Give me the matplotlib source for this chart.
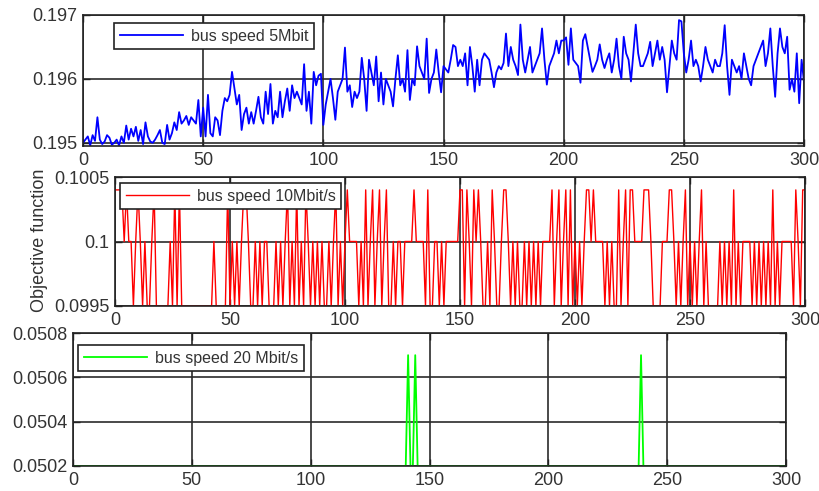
import matplotlib
matplotlib.use("Agg")
import matplotlib.pyplot as plt
from matplotlib.ticker import FixedLocator, FixedFormatter

plt.rcParams['font.family'] = ['Liberation Sans', 'DejaVu Sans']

# ---------------- data ----------------
x_blue = list(range(0, 301))
blue_5mbit = [
    0.19500, 0.19505, 0.19510, 0.19496, 0.19512, 0.19503, 0.19540, 0.19505, 0.19498, 0.19502,
    0.19512, 0.19508, 0.19497, 0.19500, 0.19505, 0.19496, 0.19510, 0.19500, 0.19527, 0.19505,
    0.19522, 0.19510, 0.19525, 0.19503, 0.19520, 0.19498, 0.19532, 0.19510, 0.19502, 0.19500,
    0.19505, 0.19512, 0.19520, 0.19500, 0.19498, 0.19528, 0.19505, 0.19515, 0.19532, 0.19520,
    0.19548, 0.19530, 0.19535, 0.19542, 0.19528, 0.19540, 0.19535, 0.19530, 0.19567, 0.19510,
    0.19555, 0.19510, 0.19575, 0.19515, 0.19510, 0.19540, 0.19535, 0.19512, 0.19550, 0.19570,
    0.19565, 0.19575, 0.19611, 0.19585, 0.19560, 0.19575, 0.19520, 0.19545, 0.19555, 0.19530,
    0.19548, 0.19530, 0.19550, 0.19572, 0.19540, 0.19530, 0.19580, 0.19545, 0.19592, 0.19530,
    0.19550, 0.19540, 0.19580, 0.19540, 0.19565, 0.19585, 0.19550, 0.19590, 0.19570, 0.19580,
    0.19570, 0.19560, 0.19623, 0.19550, 0.19580, 0.19530, 0.19611, 0.19590, 0.19605, 0.19608,
    0.19528, 0.19560, 0.19580, 0.19600, 0.19570, 0.19536, 0.19580, 0.19590, 0.19600, 0.19649,
    0.19580, 0.19590, 0.19556, 0.19580, 0.19570, 0.19580, 0.19633, 0.19600, 0.19550, 0.19630,
    0.19610, 0.19590, 0.19635, 0.19565, 0.19610, 0.19560, 0.19600, 0.19590, 0.19580, 0.19557,
    0.19600, 0.19637, 0.19590, 0.19600, 0.19580, 0.19645, 0.19567, 0.19600, 0.19590, 0.19651,
    0.19620, 0.19610, 0.19600, 0.19663, 0.19578, 0.19600, 0.19610, 0.19646, 0.19610, 0.19579,
    0.19620, 0.19615, 0.19610, 0.19630, 0.19653, 0.19650, 0.19620, 0.19630, 0.19620, 0.19640,
    0.19590, 0.19650, 0.19620, 0.19580, 0.19630, 0.19590, 0.19630, 0.19640, 0.19635, 0.19630,
    0.19610, 0.19587, 0.19610, 0.19620, 0.19615, 0.19625, 0.19671, 0.19620, 0.19650, 0.19630,
    0.19620, 0.19606, 0.19685, 0.19630, 0.19610, 0.19630, 0.19650, 0.19610, 0.19620, 0.19630,
    0.19640, 0.19679, 0.19630, 0.19591, 0.19620, 0.19630, 0.19640, 0.19660, 0.19640, 0.19660,
    0.19660, 0.19665, 0.19622, 0.19679, 0.19630, 0.19625, 0.19620, 0.19594, 0.19660, 0.19670,
    0.19650, 0.19630, 0.19611, 0.19620, 0.19630, 0.19654, 0.19630, 0.19617, 0.19630, 0.19640,
    0.19610, 0.19630, 0.19663, 0.19620, 0.19600, 0.19666, 0.19640, 0.19630, 0.19596, 0.19640,
    0.19685, 0.19640, 0.19620, 0.19620, 0.19630, 0.19640, 0.19658, 0.19620, 0.19640, 0.19660,
    0.19630, 0.19650, 0.19630, 0.19579, 0.19620, 0.19660, 0.19640, 0.19630, 0.19692, 0.19690,
    0.19640, 0.19610, 0.19630, 0.19660, 0.19620, 0.19630, 0.19620, 0.19596, 0.19620, 0.19650,
    0.19630, 0.19620, 0.19610, 0.19630, 0.19620, 0.19620, 0.19640, 0.19684, 0.19620, 0.19575,
    0.19630, 0.19620, 0.19610, 0.19620, 0.19600, 0.19640, 0.19620, 0.19600, 0.19590, 0.19620,
    0.19630, 0.19640, 0.19650, 0.19660, 0.19620, 0.19640, 0.19679, 0.19620, 0.19572, 0.19640,
    0.19679, 0.19650, 0.19640, 0.19666, 0.19583, 0.19600, 0.19580, 0.19640, 0.19562, 0.19630,
    0.19595,
]

x_red = list(range(0, 301))
red_10mbit = [
    0.1004, 0.1004, 0.1004, 0.1004, 0.1, 0.1004, 0.1, 0.1, 0.0995, 0.1,
    0.1004, 0.1, 0.0995, 0.1, 0.0995, 0.0995, 0.1, 0.1004, 0.0995, 0.0995,
    0.0995, 0.0995, 0.0995, 0.0995, 0.1, 0.0995, 0.1004, 0.0995, 0.1004, 0.0995,
    0.0995, 0.0995, 0.0995, 0.0995, 0.0995, 0.0995, 0.0995, 0.0995, 0.0995, 0.0995,
    0.0995, 0.0995, 0.0995, 0.1, 0.0995, 0.0995, 0.0995, 0.0995, 0.0995, 0.1004,
    0.0995, 0.1, 0.0995, 0.1, 0.0995, 0.1, 0.1004, 0.1004, 0.1, 0.0995,
    0.0995, 0.1, 0.0995, 0.1, 0.0995, 0.1, 0.1, 0.0995, 0.0995, 0.0995,
    0.1, 0.0995, 0.1, 0.0995, 0.1, 0.1004, 0.0995, 0.1, 0.0995, 0.1004,
    0.0995, 0.1, 0.0995, 0.1004, 0.1, 0.0995, 0.1, 0.0995, 0.1, 0.0995,
    0.1, 0.0995, 0.0995, 0.1, 0.0995, 0.1, 0.1004, 0.0995, 0.1, 0.0995,
    0.1, 0.1004, 0.1, 0.1, 0.1, 0.1, 0.0995, 0.1, 0.0995, 0.1004,
    0.0995, 0.1, 0.1004, 0.0995, 0.1, 0.1004, 0.0995, 0.1, 0.1004, 0.0995,
    0.0995, 0.1, 0.0995, 0.1, 0.1, 0.0995, 0.1, 0.1, 0.1, 0.1,
    0.1004, 0.1, 0.1, 0.1, 0.1, 0.0995, 0.1004, 0.0995, 0.0995, 0.1,
    0.1, 0.0995, 0.1, 0.0995, 0.1, 0.1, 0.1, 0.1, 0.1, 0.1,
    0.1004, 0.1004, 0.0995, 0.1004, 0.1, 0.0995, 0.1004, 0.1, 0.1004, 0.1,
    0.0995, 0.0995, 0.1, 0.0995, 0.1004, 0.1, 0.0995, 0.0995, 0.1, 0.1004,
    0.1004, 0.1, 0.0995, 0.1, 0.0995, 0.1, 0.0995, 0.0995, 0.1, 0.0995,
    0.1, 0.0995, 0.1, 0.0995, 0.1, 0.0995, 0.1, 0.1, 0.1, 0.1,
    0.1004, 0.0995, 0.1, 0.1004, 0.0995, 0.1, 0.1004, 0.0995, 0.1004, 0.0995,
    0.1, 0.0995, 0.1, 0.0995, 0.1, 0.1004, 0.1004, 0.1, 0.1004, 0.1,
    0.1, 0.1, 0.1, 0.0995, 0.1, 0.0995, 0.1, 0.0995, 0.0995, 0.1004,
    0.0995, 0.1, 0.1004, 0.0995, 0.1004, 0.1004, 0.1, 0.1, 0.1, 0.1,
    0.1004, 0.1004, 0.1004, 0.1, 0.0995, 0.0995, 0.0995, 0.0995, 0.1, 0.1,
    0.1, 0.1004, 0.1004, 0.1, 0.0995, 0.1, 0.0995, 0.1, 0.1004, 0.0995,
    0.1, 0.0995, 0.1, 0.0995, 0.1, 0.1004, 0.0995, 0.1, 0.0995, 0.0995,
    0.0995, 0.0995, 0.0995, 0.1, 0.0995, 0.1, 0.0995, 0.1, 0.0995, 0.1004,
    0.0995, 0.1, 0.0995, 0.1, 0.1, 0.1, 0.1, 0.0995, 0.1, 0.0995,
    0.1, 0.0995, 0.1, 0.0995, 0.1, 0.0995, 0.1004, 0.0995, 0.1, 0.0995,
    0.1, 0.1, 0.1, 0.1, 0.1, 0.0995, 0.1004, 0.1, 0.0995, 0.1004,
    0.1004,
]

x_green = [0, 140, 141, 142, 143, 144, 145, 238, 239, 240, 300]
green_20mbit = [0.0502, 0.0502, 0.0507, 0.0502, 0.0502, 0.0507, 0.0502,
                0.0502, 0.0507, 0.0502, 0.0502]

x_ticks = [0, 50, 100, 150, 200, 250, 300]
x_tick_labels = ['0', '50', '100', '150', '200', '250', '300']

top_yticks = [0.195, 0.196, 0.197]
top_ylabels = ['0.195', '0.196', '0.197']
mid_yticks = [0.0995, 0.1, 0.1005]
mid_ylabels = ['0.0995', '0.1', '0.1005']
bot_yticks = [0.0502, 0.0504, 0.0506, 0.0508]
bot_ylabels = ['0.0502', '0.0504', '0.0506', '0.0508']

labels = ['bus speed 5Mbit', 'bus speed 10Mbit/s', 'bus speed 20 Mbit/s']
ylabel_text = 'Objective function'

# ---------------- figure ----------------
W, H = 819, 491
fig = plt.figure(figsize=(W / 100, H / 100), dpi=100)
fig.patch.set_facecolor('white')


def add_ax(l, t, r, b):
    return fig.add_axes([l / W, 1 - b / H, (r - l) / W, (b - t) / H])


def style(ax, yt, yl, ylim):
    ax.set_xlim(0, 300)
    ax.set_ylim(*ylim)
    ax.xaxis.set_major_locator(FixedLocator(x_ticks))
    ax.xaxis.set_major_formatter(FixedFormatter(x_tick_labels))
    ax.yaxis.set_major_locator(FixedLocator(yt))
    ax.yaxis.set_major_formatter(FixedFormatter(yl))
    ax.grid(True, color='#2b2b2b', linewidth=1.2, linestyle='-')
    ax.set_axisbelow(True)
    ax.tick_params(direction='in', length=5, width=1, colors='#222222',
                   labelsize=13, pad=4, right=True, top=True,
                   labelcolor='#333333')
    for s in ax.spines.values():
        s.set_color('#222222')
        s.set_linewidth(1.2)


def add_legend(ax, x0, y0):
    leg = ax.legend(loc='upper left', bbox_to_anchor=(x0 / W, 1 - y0 / H),
                    bbox_transform=fig.transFigure, borderaxespad=0,
                    fontsize=11.5, handlelength=4.0, handletextpad=0.45,
                    borderpad=0.35, fancybox=False, framealpha=1,
                    edgecolor='#222222', facecolor='white')
    leg.get_frame().set_linewidth(1.2)
    leg.set_zorder(10)
    for t in leg.get_texts():
        t.set_color('#333333')
    return leg


# top panel
ax1 = add_ax(83, 15, 804, 146)
ax1.plot(x_blue, blue_5mbit, color='#0000ff', linewidth=1.3, label=labels[0])
style(ax1, top_yticks, top_ylabels, (0.19495, 0.197))
add_legend(ax1, 114, 23)

# middle panel
ax2 = add_ax(115, 177, 805, 306)
ax2.plot(x_red, red_10mbit, color='#ff0000', linewidth=1.0, label=labels[1])
style(ax2, mid_yticks, mid_ylabels, (0.0995, 0.1005))
add_legend(ax2, 120, 183)
fig.text(40 / W, 1 - 240 / H, ylabel_text, rotation=90, ha='center',
         va='center', fontsize=13, color='#333333')

# bottom panel
ax3 = add_ax(73, 333, 786, 466)
ax3.plot(x_green, green_20mbit, color='#00ff00', linewidth=1.3, label=labels[2])
style(ax3, bot_yticks, bot_ylabels, (0.0502, 0.0508))
add_legend(ax3, 78, 345)

fig.savefig('out.png', dpi=100, facecolor='white')
